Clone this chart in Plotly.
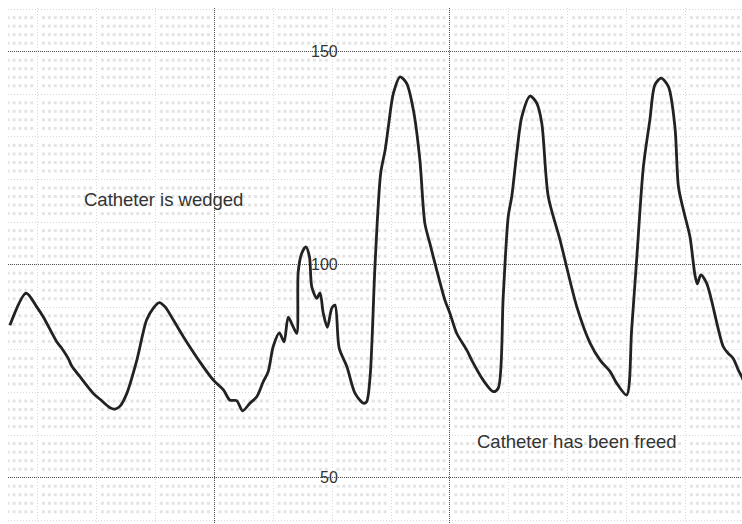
import numpy as np
import plotly.graph_objects as go

# Pressure trace: time (ms) and pressure (mmHg)
time_ms = [306, 361, 397, 419, 465, 482, 504, 516, 544, 589, 612, 646, 663, 680, 703, 737, 770, 793, 813, 833,
           861, 895, 951, 997, 1031, 1053, 1076, 1096, 1121, 1144, 1166, 1183, 1200, 1221, 1237, 1251, 1268, 1280,
           1285, 1297, 1311, 1323, 1331, 1348, 1359, 1370, 1384, 1399, 1410, 1424, 1450, 1478, 1506, 1517, 1529,
           1546, 1565, 1580, 1591, 1608, 1631, 1653, 1676, 1698, 1715, 1732, 1755, 1783, 1800, 1823, 1857, 1874,
           1913, 1947, 1964, 1981, 1998, 2010, 2027, 2044, 2072, 2095, 2112, 2134, 2174, 2231, 2276, 2310, 2344,
           2366, 2400, 2417, 2434, 2457, 2479, 2496, 2517, 2542, 2564, 2576, 2593, 2615, 2632, 2640, 2652, 2672,
           2728, 2745, 2762, 2779, 2791, 2805]
pressure = [85.8, 93.3, 90.1, 87.8, 81.9, 80.4, 78.0, 76.2, 73.7, 69.8, 68.4, 66.4, 66.1, 66.8, 69.8, 77.6, 87.0,
            89.8, 91.1, 90.1, 87.0, 83.1, 77.2, 72.9, 70.6, 68.2, 68.1, 65.7, 67.5, 69.0, 72.5, 74.9, 80.8, 84.0,
            81.9, 87.7, 85.4, 83.9, 98.4, 102.7, 104.2, 101.9, 94.8, 92.1, 93.4, 88.6, 85.3, 89.8, 90.5, 80.4,
            76.1, 69.8, 67.5, 67.8, 73.7, 100.3, 121.5, 126.9, 132.4, 140.2, 144.1, 142.6, 136.3, 124.6, 109.7,
            105.0, 98.8, 91.7, 88.6, 83.9, 80.0, 77.6, 72.9, 70.2, 71.0, 92.5, 111.3, 116.0, 126.2, 134.7, 139.6,
            137.9, 133.2, 116.0, 105.8, 90.1, 81.6, 77.6, 74.9, 72.2, 69.4, 84.7, 101.1, 123.0, 134.0, 142.2,
            143.8, 141.8, 132.4, 118.3, 112.8, 106.6, 97.6, 95.5, 97.6, 95.6, 80.8, 79.2, 78.0, 75.3, 73.7, 71.5]

y_ticks = [50, 100, 150]
x_major = [1000, 1800]
notes = ["Catheter is wedged", "Catheter has been freed"]
note_x = [826, 2230]
note_y = [115.2, 58.4]

X_RANGE = [299.5, 2791.8]
Y_RANGE = [39.13, 160.26]

# chart-paper texture (small squares between the minor grid lines)
gx = np.arange(0, 2900, 20)
gx = gx[(gx % 200 != 0) & (gx > X_RANGE[0]) & (gx < X_RANGE[1])]
gy = np.arange(38, 162, 2)
gy = gy[gy % 10 != 0]
GX, GY = np.meshgrid(gx, gy)

fig = go.Figure()
fig.add_trace(go.Scatter(
    x=GX.ravel(), y=GY.ravel(), mode="markers",
    marker=dict(symbol="square", size=3, color="#e4e4e4", line=dict(width=0)),
    hoverinfo="skip", showlegend=False))
fig.add_trace(go.Scatter(
    x=time_ms, y=pressure, mode="lines",
    line=dict(color="#222222", width=2.8, shape="spline", smoothing=0.8),
    hoverinfo="skip", showlegend=False))

for v in y_ticks:
    fig.add_annotation(x=1427, y=v, text=str(v), showarrow=False, xanchor="right", yanchor="middle",
                       font=dict(family="Liberation Sans, Arial, sans-serif", size=16, color="#333333"))
for t, xx, yy in zip(notes, note_x, note_y):
    fig.add_annotation(x=xx, y=yy, text=t, showarrow=False, xanchor="center", yanchor="middle",
                       font=dict(family="Liberation Sans, Arial, sans-serif", size=18.5, color="#333333"))

fig.update_layout(
    width=742, height=524, margin=dict(l=8, r=0, t=8, b=0),
    paper_bgcolor="white", plot_bgcolor="white", hovermode=False,
    xaxis=dict(range=X_RANGE, tickmode="array", tickvals=x_major, showticklabels=False, ticks="",
               showgrid=True, gridcolor="#555555", gridwidth=1, griddash="1px,1px", zeroline=False,
               showline=False, fixedrange=True,
               minor=dict(tickmode="linear", tick0=0, dtick=200, showgrid=True, gridcolor="#d8d8d8",
                          gridwidth=1, griddash="1px,2px", ticks="")),
    yaxis=dict(range=Y_RANGE, tickmode="array", tickvals=y_ticks, showticklabels=False, ticks="",
               showgrid=True, gridcolor="#555555", gridwidth=1, griddash="1px,1px", zeroline=False,
               showline=False, fixedrange=True,
               minor=dict(tickmode="linear", tick0=0, dtick=10, showgrid=True, gridcolor="#d8d8d8",
                          gridwidth=1, griddash="1px,2px", ticks="")),
)

fig.write_html("out.html", config={"displayModeBar": False},
               post_script="document.body.style.margin='0';document.documentElement.style.overflow='hidden';")
